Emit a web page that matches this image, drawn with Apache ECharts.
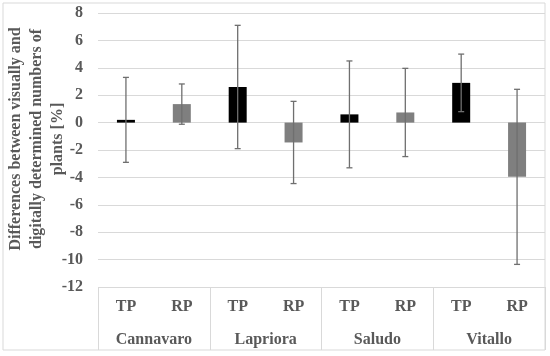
<!DOCTYPE html>
<html><head><meta charset="utf-8">
<script src="https://cdn.jsdelivr.net/npm/echarts@6/dist/echarts.min.js"></script>
<style>html,body{margin:0;padding:0;background:#fff}#c{width:550px;height:356px}</style>
</head><body><div id="c"></div>
<script>
const sites = ['Cannavaro', 'Lapriora', 'Saludo', 'Vitallo'];
const subCats = ['TP', 'RP'];
const tpValues = [0.2, 2.6, 0.6, 2.9];
const tpErr = [3.1, 4.5, 3.9, 2.1];
const rpValues = [1.35, -1.45, 0.74, -3.96];
const rpErr = [1.47, 3.0, 3.22, 6.39];
const yTicks = {min: -12, max: 8, interval: 2};

const xCats = [];
const barData = [];
const errData = [];
sites.forEach((s, i) => {
  xCats.push(subCats[0], subCats[1]);
  barData.push({value: tpValues[i], itemStyle: {color: '#000000'}});
  barData.push({value: rpValues[i], itemStyle: {color: '#7f7f7f'}});
  errData.push([2 * i, tpValues[i] - tpErr[i], tpValues[i] + tpErr[i]]);
  errData.push([2 * i + 1, rpValues[i] - rpErr[i], rpValues[i] + rpErr[i]]);
});

const serif = '"Liberation Serif","Times New Roman",serif';
const chart = echarts.init(document.getElementById('c'));
chart.setOption({
  animation: false,
  graphic: [{type: 'rect', shape: {x: 3, y: 3, width: 542, height: 347}, style: {fill: 'none', stroke: '#d9d9d9', lineWidth: 1}, silent: true}],
  grid: {left: 98, right: 5, top: 13, bottom: 69, containLabel: false, outerBoundsMode: 'none'},
  xAxis: [{
    type: 'category', data: xCats, position: 'bottom',
    axisLine: {show: false}, axisTick: {show: false},
    axisLabel: {interval: 0, margin: 12, color: '#595959', fontFamily: serif, fontWeight: 'bold', fontSize: 16}
  }, {
    type: 'category', data: sites, position: 'bottom',
    axisLine: {show: false},
    axisTick: {show: true, interval: 0, length: 63, lineStyle: {color: '#d9d9d9', width: 1}},
    axisLabel: {interval: 0, margin: 45, color: '#595959', fontFamily: serif, fontWeight: 'bold', fontSize: 16}
  }],
  yAxis: {
    type: 'value', min: yTicks.min, max: yTicks.max, interval: yTicks.interval,
    axisLine: {show: false}, axisTick: {show: false},
    splitLine: {lineStyle: {color: '#d9d9d9', width: 1}},
    axisLabel: {margin: 15, color: '#595959', fontFamily: serif, fontWeight: 'bold', fontSize: 16},
    name: 'Differences between visually and\ndigitally determined numbers of\nplants [%]',
    nameLocation: 'middle', nameGap: 30, nameMoveOverlap: false,
    nameTextStyle: {color: '#595959', fontFamily: serif, fontWeight: 'bold', fontSize: 16, lineHeight: 21, align: 'center', padding: [0, 0, 0, 22]}
  },
  series: [{
    type: 'bar', xAxisIndex: 0, data: barData, barWidth: 18
  }, {
    type: 'custom', xAxisIndex: 0, data: errData, z: 10,
    renderItem: function (params, api) {
      const x = api.value(0);
      const lo = api.coord([x, api.value(1)]);
      const hi = api.coord([x, api.value(2)]);
      const w = 3;
      const st = {stroke: '#6f6f6f', lineWidth: 1.3};
      return {type: 'group', children: [
        {type: 'line', shape: {x1: lo[0], y1: lo[1], x2: hi[0], y2: hi[1]}, style: st},
        {type: 'line', shape: {x1: lo[0] - w, y1: lo[1], x2: lo[0] + w, y2: lo[1]}, style: st},
        {type: 'line', shape: {x1: hi[0] - w, y1: hi[1], x2: hi[0] + w, y2: hi[1]}, style: st}
      ]};
    }
  }]
});
</script></body></html>
